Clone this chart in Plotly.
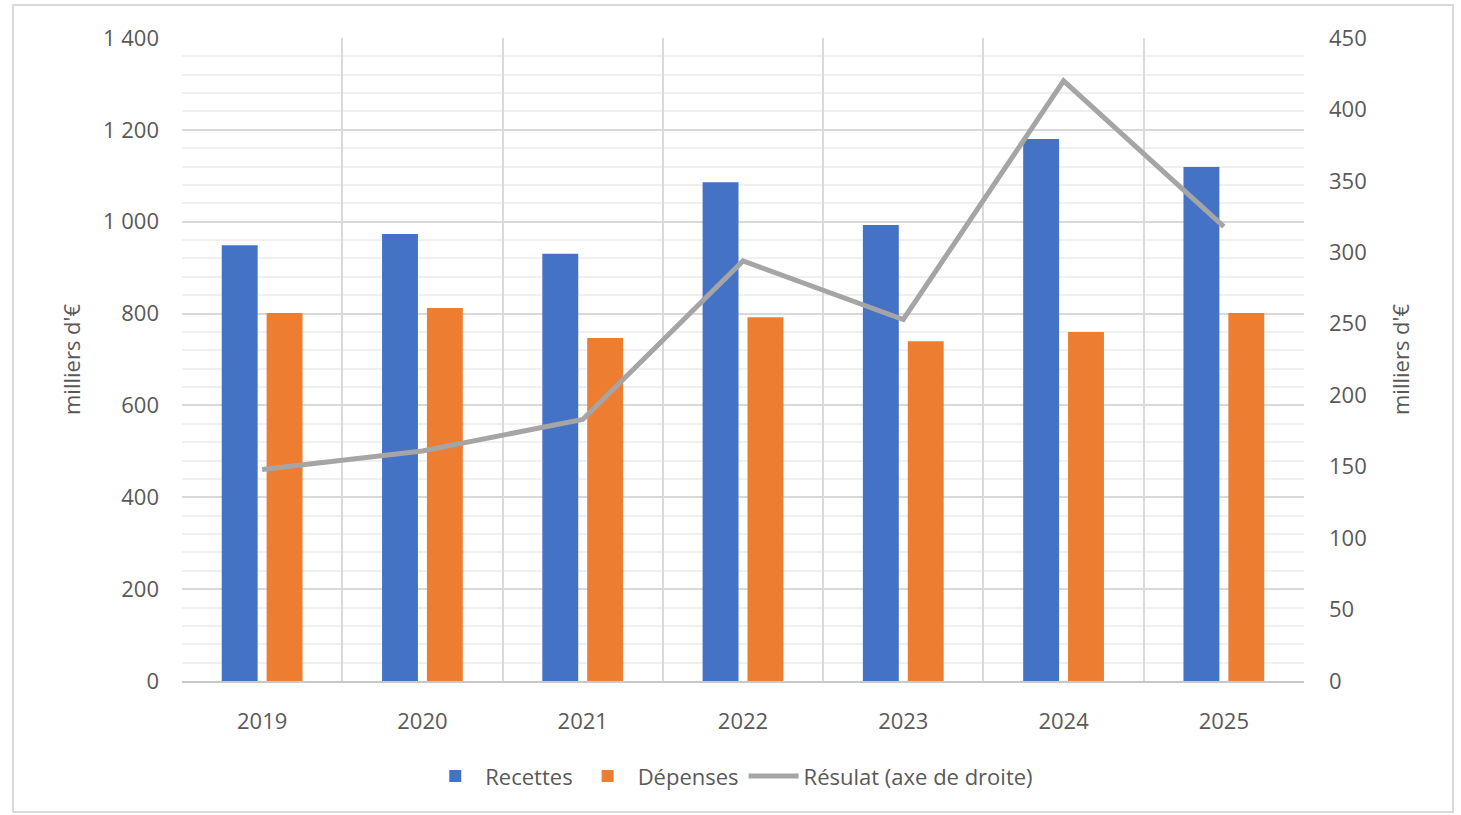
import plotly.graph_objects as go

years = ["2019", "2020", "2021", "2022", "2023", "2024", "2025"]
recettes = [949, 973, 930, 1086, 993, 1180, 1119]
depenses = [801, 812, 747, 792, 740, 760, 801]
resultat = [148, 161, 183, 294, 253, 420, 318]

FONT = "Open Sans"
TXT = "#595959"

fig = go.Figure()
fig.add_trace(go.Bar(x=years, y=recettes, name="Recettes", marker_color="#4472c4",
                     marker_line_width=0))
fig.add_trace(go.Bar(x=years, y=depenses, name="Dépenses", marker_color="#ed7d31",
                     marker_line_width=0))
fig.add_trace(go.Scatter(x=years, y=resultat, name="Résulat (axe de droite)", mode="lines",
                         line=dict(color="#a5a5a5", width=5), yaxis="y2"))

fig.update_layout(
    width=1461, height=815,
    margin=dict(l=182, r=157, t=38, b=134),
    paper_bgcolor="white", plot_bgcolor="white",
    font=dict(family=FONT, size=22, color=TXT),
    separators=", ",
    barmode="group", bargap=0.44, bargroupgap=0.2,
    showlegend=True,
    legend=dict(orientation="h", x=0.49, xanchor="center", y=-0.148, yanchor="middle",
                font=dict(size=22, color=TXT), itemwidth=50, traceorder="normal"),
    xaxis=dict(type="category", tickson="boundaries", showgrid=True, gridcolor="#d9d9d9",
               gridwidth=2, ticks="", showline=True, linecolor="#c8c8c8", linewidth=2,
               ticklabelstandoff=20, tickfont=dict(size=22, color=TXT)),
    yaxis=dict(range=[0, 1400], dtick=200, tickformat=",d", showgrid=True,
               gridcolor="#d9d9d9", gridwidth=2, zeroline=False, showline=False,
               minor=dict(dtick=40, showgrid=True, gridcolor="#f0f0f0", gridwidth=2),
               ticks="", ticklabelstandoff=22, tickfont=dict(size=22, color=TXT),
               title=dict(text="milliers d'€", standoff=16, font=dict(size=22, color=TXT))),
    yaxis2=dict(range=[0, 450], dtick=50, overlaying="y", side="right", showgrid=False,
                zeroline=False, showline=False, ticks="", ticklabelstandoff=24,
                tickfont=dict(size=22, color=TXT),
                title=dict(text="milliers d'€", standoff=27, font=dict(size=22, color=TXT))),
    shapes=[dict(type="rect", xref="paper", yref="paper", x0=-0.1506, x1=1.1328,
                 y0=-0.2037, y1=1.0513, line=dict(color="#d9d9d9", width=2),
                 fillcolor="rgba(0,0,0,0)", layer="below")],
)

fig.write_html("out.html", config={"displayModeBar": False},
               post_script="document.body.style.margin='0';document.body.style.overflow='hidden';")
